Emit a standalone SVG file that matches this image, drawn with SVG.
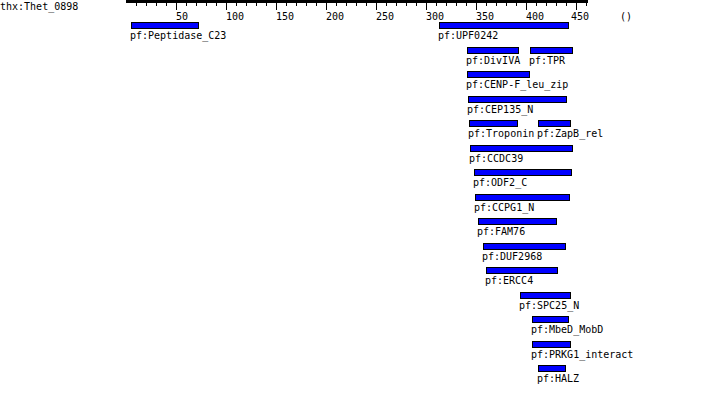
<svg xmlns="http://www.w3.org/2000/svg" width="707" height="416" viewBox="0 0 707 416">
<style>
text{font-family:"DejaVu Sans Mono","Liberation Mono",monospace;font-size:10px;fill:#000}
.bar{fill:#0000ff;stroke:#000;stroke-width:1}
.mt{stroke:#000;stroke-width:1}
</style>
<rect width="707" height="416" fill="#fff"/>
<g id="title"><text x="0" y="10">thx:Thet_0898</text></g>
<g id="ruler">
<rect x="126" y="0" width="462" height="3" fill="#000"/>
<path class="mt" d="M136.5 0V6M146.5 0V6M156.5 0V6M166.5 0V6M186.5 0V6M196.5 0V6M206.5 0V6M216.5 0V6M236.5 0V6M246.5 0V6M256.5 0V6M266.5 0V6M286.5 0V6M296.5 0V6M306.5 0V6M316.5 0V6M336.5 0V6M346.5 0V6M356.5 0V6M366.5 0V6M386.5 0V6M396.5 0V6M406.5 0V6M416.5 0V6M436.5 0V6M446.5 0V6M456.5 0V6M466.5 0V6M486.5 0V6M496.5 0V6M506.5 0V6M516.5 0V6M536.5 0V6M546.5 0V6M556.5 0V6M566.5 0V6M586.5 0V6"/>
<path class="mt" d="M176.5 0V10M226.5 0V10M276.5 0V10M326.5 0V10M376.5 0V10M426.5 0V10M476.5 0V10M526.5 0V10M576.5 0V10"/>
<text x="176" y="20">50</text>
<text x="226" y="20">100</text>
<text x="276" y="20">150</text>
<text x="326" y="20">200</text>
<text x="376" y="20">250</text>
<text x="426" y="20">300</text>
<text x="476" y="20">350</text>
<text x="526" y="20">400</text>
<text x="571" y="20">450</text>
<text x="620" y="20">()</text>
</g>
<g id="Peptidase_C23"><rect class="bar" x="131.5" y="22.5" width="67" height="6"/><text x="130" y="39">pf:Peptidase_C23</text></g>
<g id="UPF0242"><rect class="bar" x="439.5" y="22.5" width="129" height="6"/><text x="438" y="39">pf:UPF0242</text></g>
<g id="DivIVA"><rect class="bar" x="467.5" y="47.5" width="51" height="6"/><text x="466" y="64">pf:DivIVA</text></g>
<g id="TPR"><rect class="bar" x="530.5" y="47.5" width="42" height="6"/><text x="529" y="64">pf:TPR</text></g>
<g id="CENP-F_leu_zip"><rect class="bar" x="467.5" y="71.5" width="62" height="6"/><text x="466" y="88">pf:CENP-F_leu_zip</text></g>
<g id="CEP135_N"><rect class="bar" x="468.5" y="96.5" width="98" height="6"/><text x="467" y="113">pf:CEP135_N</text></g>
<g id="Troponin"><rect class="bar" x="469.5" y="120.5" width="48" height="6"/><text x="468" y="137">pf:Troponin</text></g>
<g id="ZapB_rel"><rect class="bar" x="538.5" y="120.5" width="32" height="6"/><text x="537" y="137">pf:ZapB_rel</text></g>
<g id="CCDC39"><rect class="bar" x="470.5" y="145.5" width="102" height="6"/><text x="469" y="162">pf:CCDC39</text></g>
<g id="ODF2_C"><rect class="bar" x="474.5" y="169.5" width="97" height="6"/><text x="473" y="186">pf:ODF2_C</text></g>
<g id="CCPG1_N"><rect class="bar" x="475.5" y="194.5" width="94" height="6"/><text x="474" y="211">pf:CCPG1_N</text></g>
<g id="FAM76"><rect class="bar" x="478.5" y="218.5" width="78" height="6"/><text x="477" y="235">pf:FAM76</text></g>
<g id="DUF2968"><rect class="bar" x="483.5" y="243.5" width="82" height="6"/><text x="482" y="260">pf:DUF2968</text></g>
<g id="ERCC4"><rect class="bar" x="486.5" y="267.5" width="71" height="6"/><text x="485" y="284">pf:ERCC4</text></g>
<g id="SPC25_N"><rect class="bar" x="520.5" y="292.5" width="50" height="6"/><text x="519" y="309">pf:SPC25_N</text></g>
<g id="MbeD_MobD"><rect class="bar" x="532.5" y="316.5" width="36" height="6"/><text x="531" y="333">pf:MbeD_MobD</text></g>
<g id="PRKG1_interact"><rect class="bar" x="532.5" y="341.5" width="38" height="6"/><text x="531" y="358">pf:PRKG1_interact</text></g>
<g id="HALZ"><rect class="bar" x="538.5" y="365.5" width="27" height="6"/><text x="537" y="382">pf:HALZ</text></g>
<g id="connectors"/>
</svg>
